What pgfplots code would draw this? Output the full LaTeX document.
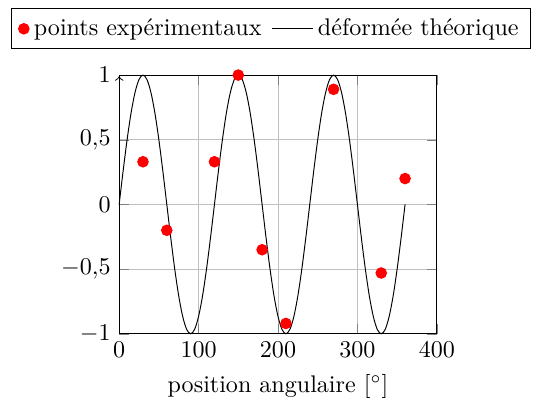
\documentclass[border=0pt]{standalone}
\usepackage{fontspec}
\usepackage{pgfplots}
\pgfplotsset{compat=1.18}
\begin{document}
\begin{tikzpicture}
\begin{axis}[
  scale only axis,
  width=132pt, height=107.5pt,
  xmin=0, xmax=400, ymin=-1, ymax=1,
  xtick={0,100,200,300,400},
  ytick={-1,-0.5,0,0.5,1},
  /pgf/number format/use comma,
  grid=major,
  major grid style={gray!50},
  xlabel={position angulaire [$^\circ$]},
  legend columns=-1,
  legend style={at={(0.478,1.1)}, anchor=south, draw=black, /tikz/every even column/.append style={column sep=2pt}},
  tick align=inside,
  clip=false,
]
\addplot[only marks, mark=*, red, mark size=2.2pt] coordinates {
(30,0.33) (60,-0.2) (120,0.33) (150,1.0) (180,-0.35) (210,-0.92) (270,0.89) (330,-0.53) (360,0.2)
};
\addlegendentry{points expérimentaux}
\addplot[black, smooth, mark=none] coordinates {
(0,0) (5,0.2588) (10,0.5) (15,0.7071) (20,0.8660) (25,0.9659) (30,1) (35,0.9659) (40,0.8660) (45,0.7071) (50,0.5) (55,0.2588)
(60,0) (65,-0.2588) (70,-0.5) (75,-0.7071) (80,-0.8660) (85,-0.9659) (90,-1) (95,-0.9659) (100,-0.8660) (105,-0.7071) (110,-0.5) (115,-0.2588)
(120,0) (125,0.2588) (130,0.5) (135,0.7071) (140,0.8660) (145,0.9659) (150,1) (155,0.9659) (160,0.8660) (165,0.7071) (170,0.5) (175,0.2588)
(180,0) (185,-0.2588) (190,-0.5) (195,-0.7071) (200,-0.8660) (205,-0.9659) (210,-1) (215,-0.9659) (220,-0.8660) (225,-0.7071) (230,-0.5) (235,-0.2588)
(240,0) (245,0.2588) (250,0.5) (255,0.7071) (260,0.8660) (265,0.9659) (270,1) (275,0.9659) (280,0.8660) (285,0.7071) (290,0.5) (295,0.2588)
(300,0) (305,-0.2588) (310,-0.5) (315,-0.7071) (320,-0.8660) (325,-0.9659) (330,-1) (335,-0.9659) (340,-0.8660) (345,-0.7071) (350,-0.5) (355,-0.2588)
(360,0)
};
\addlegendentry{déformée théorique}
\draw[->] (axis cs:0,-1) -- (axis cs:0,0.99);
\end{axis}
\path ([shift={(-4.5pt,-3pt)}]current bounding box.south west) ([shift={(4.5pt,3.5pt)}]current bounding box.north east);
\end{tikzpicture}
\end{document}
